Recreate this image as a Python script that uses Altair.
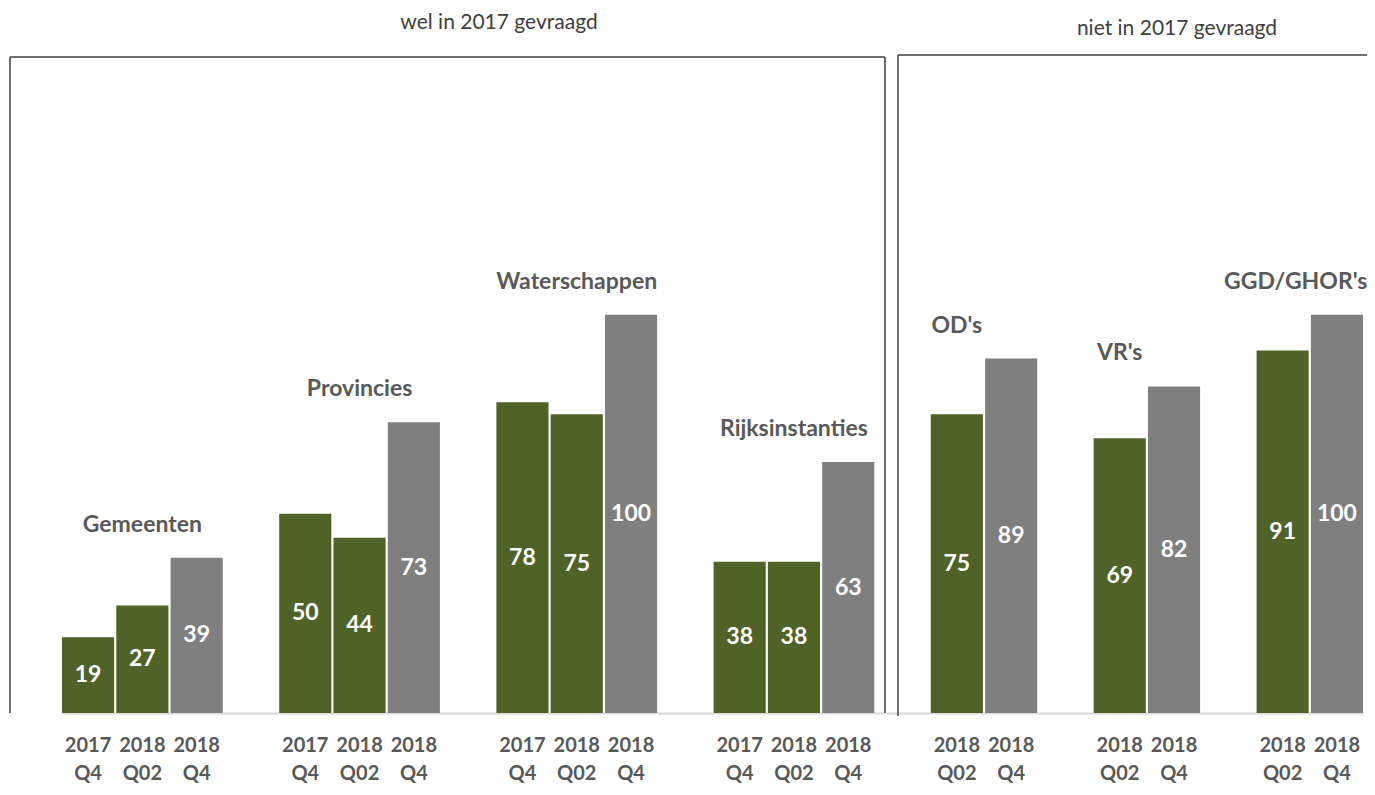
import altair as alt
import pandas as pd

group_names = ["Gemeenten", "Provincies", "Waterschappen", "Rijksinstanties", "OD's", "VR's", "GGD/GHOR's"]
group_periods = [
    ["2017 Q4", "2018 Q02", "2018 Q4"],
    ["2017 Q4", "2018 Q02", "2018 Q4"],
    ["2017 Q4", "2018 Q02", "2018 Q4"],
    ["2017 Q4", "2018 Q02", "2018 Q4"],
    ["2018 Q02", "2018 Q4"],
    ["2018 Q02", "2018 Q4"],
    ["2018 Q02", "2018 Q4"],
]
group_values = [
    [19, 27, 39],
    [50, 44, 73],
    [78, 75, 100],
    [38, 38, 63],
    [75, 89],
    [69, 82],
    [91, 100],
]
# which bar of the group the group name sits over (-1 = between the two bars)
label_over = [1, 1, 1, 1, 0, 0, -1]
section_titles = ["wel in 2017 gevraagd", "niet in 2017 gevraagd"]

GREEN = "#4F6228"
GRAY = "#7F7F7F"
TEXT = "#595959"
FONT = "Lato"

rows, domain, labels = [], [], []
for gi, (g, ps, vs) in enumerate(zip(group_names, group_periods, group_values)):
    if gi > 0:
        domain.append(f"gap{gi}")
    keys = []
    for p, v in zip(ps, vs):
        key = f"{g}|{p}"
        keys.append(key)
        domain.append(key)
        rows.append(dict(key=key, group=g, period=p, value=v, half=v / 2,
                         kind="gray" if p == "2018 Q4" else "green"))
    lo = label_over[gi]
    labels.append(dict(group=g, key=keys[0] if lo < 0 else keys[lo], top=max(vs),
                       between=lo < 0))

bars_df = pd.DataFrame(rows)
labels_df = pd.DataFrame(labels)
one = pd.DataFrame({"a": [0]})

label_expr = ("indexof(datum.value, '|') < 0 ? '' : "
              "split(substring(datum.value, indexof(datum.value, '|') + 1), ' ')")

xscale = alt.Scale(domain=domain, paddingInner=0.04, paddingOuter=0)
yscale = alt.Scale(domain=[0, 177], nice=False, zero=True)

x_enc = alt.X("key:N", scale=xscale, sort=domain, axis=alt.Axis(
    title=None, labelExpr=label_expr, ticks=False, labelAngle=0,
    domainColor="#D9D9D9", domainWidth=2, labelFont=FONT, labelFontWeight="bold",
    labelFontSize=20, labelColor=TEXT, labelPadding=22, labelLineHeight=28,
    labelBaseline="top", labelOverlap=False, grid=False))

bars = alt.Chart(bars_df).mark_bar().encode(
    x=x_enc,
    y=alt.Y("value:Q", scale=yscale, axis=None),
    color=alt.Color("kind:N", scale=alt.Scale(domain=["green", "gray"], range=[GREEN, GRAY]), legend=None),
)

values = alt.Chart(bars_df).mark_text(
    font=FONT, fontWeight="bold", fontSize=23, color="white", baseline="middle"
).encode(
    x=alt.X("key:N", scale=xscale, sort=domain),
    y=alt.Y("half:Q", scale=yscale),
    text=alt.Text("value:Q"),
)

glabel_style = dict(font=FONT, fontWeight="bold", fontSize=23, color=TEXT, baseline="middle", dy=-33)
glabels_center = alt.Chart(labels_df).transform_filter("!datum.between").mark_text(**glabel_style).encode(
    x=alt.X("key:N", scale=xscale, sort=domain),
    y=alt.Y("top:Q", scale=yscale),
    text="group:N",
)
glabels_between = alt.Chart(labels_df).transform_filter("datum.between").mark_text(
    **{**glabel_style, "dx": -13}).encode(
    x=alt.X("key:N", scale=xscale, sort=domain, bandPosition=1),
    y=alt.Y("top:Q", scale=yscale),
    text="group:N",
)

BOX = "#404040"
def rule(x1, x2, y1, y2):
    return alt.Chart(one).mark_rule(color=BOX, strokeWidth=1.5).encode(
        x=alt.value(x1), x2=alt.value(x2), y=alt.value(y1), y2=alt.value(y2))

boxes = [
    rule(-52, 823, 49, 49),
    rule(-52, -52, 49, 705),
    rule(823, 823, 49, 705),
    rule(836, 1320, 47, 47),
    rule(836, 836, 47, 708),
]

def title_text(txt, x, y):
    return alt.Chart(one).mark_text(font=FONT, fontSize=21, color="#404040", baseline="middle").encode(
        x=alt.value(x), y=alt.value(y), text=alt.value(txt))

titles = [
    title_text(section_titles[0], 437, 15),
    title_text(section_titles[1], 1115, 21),
]

chart = alt.layer(bars, values, glabels_center, glabels_between, *boxes, *titles).properties(
    width=1301, height=705,
    autosize=alt.AutoSizeParams(type="none"),
    padding={"left": 54, "top": 0, "right": 4, "bottom": 71},
    background="white",
).configure_view(strokeWidth=0)

chart.save("out.html", embed_options={"renderer": "svg", "actions": False})
